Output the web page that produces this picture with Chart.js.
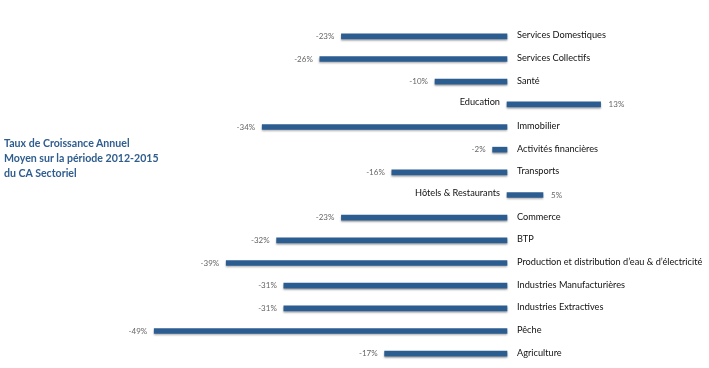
<!DOCTYPE html>
<html>
<head>
<meta charset="utf-8">
<script src="https://cdn.jsdelivr.net/npm/chart.js@4"></script>
<style>
  body { margin: 0; background: #fff; }
  #wrap { position: relative; width: 709px; height: 368px; }
  #title { position: absolute; left: 4px; top: 136px; font: bold 10.6px Lato, sans-serif; color: #2f5d8e; line-height: 15px; }
</style>
</head>
<body>
<div id="wrap">
  <canvas id="tcamChart" width="709" height="368"></canvas>
  <div id="title">Taux de Croissance Annuel<br>Moyen sur la période 2012-2015<br>du CA Sectoriel</div>
</div>
<script>
var sectors = ["Services Domestiques", "Services Collectifs", "Santé", "Education", "Immobilier",
  "Activités financières", "Transports", "Hôtels & Restaurants", "Commerce", "BTP",
  "Production et distribution d’eau & d’électricité", "Industries Manufacturières",
  "Industries Extractives", "Pêche", "Agriculture"];
var growth = [-23, -26, -10, 13, -34, -2, -16, 5, -23, -32, -39, -31, -31, -49, -17];

// labels next to zero line + value labels at bar ends
var barLabels = {
    id: 'barLabels',
    beforeDatasetsDraw: function(chart) {
        chart.ctx.save();
        chart.ctx.shadowColor = 'rgba(0,0,0,0.35)';
        chart.ctx.shadowBlur = 2;
        chart.ctx.shadowOffsetY = 1.5;
    },
    afterDatasetsDraw: function(chart) {
        var ctx = chart.ctx;
        ctx.restore();
        var x = chart.scales.x, meta = chart.getDatasetMeta(0);
        var zero = x.getPixelForValue(0);
        ctx.save();
        ctx.textBaseline = 'middle';
        meta.data.forEach(function(bar, i) {
            var v = growth[i];
            ctx.fillStyle = '#111';
            ctx.font = '9.2px Lato, sans-serif';
            if (v < 0) {
                ctx.textAlign = 'left';
                ctx.fillText(sectors[i], zero + 10, bar.y - 1);
            } else {
                ctx.textAlign = 'right';
                ctx.fillText(sectors[i], zero - 7, bar.y - 2);
            }
            ctx.fillStyle = '#666';
            ctx.font = '8px Lato, sans-serif';
            if (v < 0) {
                ctx.textAlign = 'right';
                ctx.fillText(v + '%', bar.x - 7, bar.y);
            } else {
                ctx.textAlign = 'left';
                ctx.fillText(v + '%', bar.x + 8, bar.y);
            }
        });
        ctx.restore();
    }
};

new Chart(document.getElementById('tcamChart').getContext('2d'), {
    type: 'bar',
    data: {
        labels: sectors,
        datasets: [{
            data: growth,
            backgroundColor: '#2c5d90',
            barThickness: 5
        }]
    },
    options: {
        indexAxis: 'y',
        responsive: false,
        animation: false,
        layout: { padding: { left: 147, right: 94, top: 25, bottom: 3 } },
        plugins: { legend: { display: false }, tooltip: { enabled: false } },
        scales: {
            x: { display: false, min: -50, max: 15 },
            y: { display: false }
        }
    },
    plugins: [barLabels]
});
</script>
</body>
</html>
